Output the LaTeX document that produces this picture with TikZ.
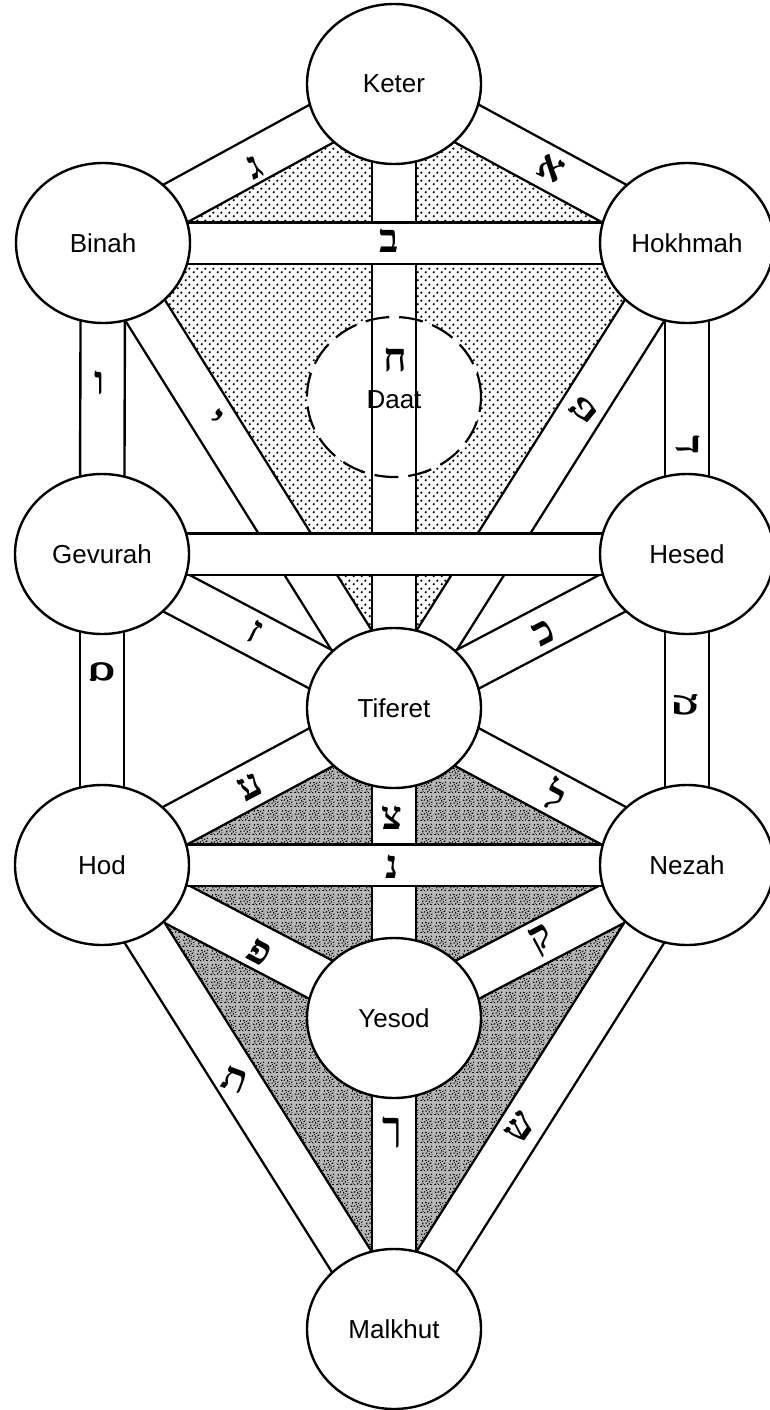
\documentclass[tikz,border=0pt]{standalone}
\usepackage{fontspec}
\setmainfont{Liberation Sans}
\newfontfamily\hebfont[Script=Hebrew]{Liberation Serif}
\usetikzlibrary{shapes.geometric,patterns.meta}
\pgfdeclarelayer{shade}
\pgfdeclarelayer{paths}
\pgfsetlayers{shade,paths,main}

\tikzdeclarepattern{
  name=finedots,
  type=uncolored,
  bounding box={(0pt,0pt) and (8pt,8pt)},
  tile size={(8pt,8pt)},
  code={
    \fill (2pt,2pt) circle [radius=1.35pt];
    \fill (6pt,6pt) circle [radius=1.35pt];
  }
}

\tikzdeclarepattern{
  name=speckle,
  type=uncolored,
  bounding box={(0pt,0pt) and (14pt,14pt)},
  tile size={(14pt,14pt)},
  code={
    \fill[rotate around={20:(1.5pt,1.8pt)}] (1.5pt,1.8pt) ellipse [x radius=1.4pt, y radius=0.7pt];
    \fill[rotate around={-40:(5.0pt,1.4pt)}] (5.0pt,1.4pt) ellipse [x radius=1.2pt, y radius=0.6pt];
    \fill[rotate around={60:(8.3pt,2.5pt)}] (8.3pt,2.5pt) ellipse [x radius=1.5pt, y radius=0.7pt];
    \fill[rotate around={-10:(11.8pt,1.6pt)}] (11.8pt,1.6pt) ellipse [x radius=1.3pt, y radius=0.6pt];
    \fill[rotate around={80:(3.0pt,4.9pt)}] (3.0pt,4.9pt) ellipse [x radius=1.3pt, y radius=0.7pt];
    \fill[rotate around={10:(6.6pt,5.3pt)}] (6.6pt,5.3pt) ellipse [x radius=1.5pt, y radius=0.6pt];
    \fill[rotate around={-60:(10.0pt,4.6pt)}] (10.0pt,4.6pt) ellipse [x radius=1.2pt, y radius=0.7pt];
    \fill[rotate around={40:(12.6pt,6.2pt)}] (12.6pt,6.2pt) ellipse [x radius=1.2pt, y radius=0.6pt];
    \fill[rotate around={-30:(1.6pt,8.3pt)}] (1.6pt,8.3pt) ellipse [x radius=1.4pt, y radius=0.6pt];
    \fill[rotate around={50:(4.8pt,8.6pt)}] (4.8pt,8.6pt) ellipse [x radius=1.3pt, y radius=0.7pt];
    \fill[rotate around={-80:(8.2pt,7.8pt)}] (8.2pt,7.8pt) ellipse [x radius=1.4pt, y radius=0.6pt];
    \fill[rotate around={15:(11.2pt,9.4pt)}] (11.2pt,9.4pt) ellipse [x radius=1.5pt, y radius=0.7pt];
    \fill[rotate around={70:(2.6pt,11.8pt)}] (2.6pt,11.8pt) ellipse [x radius=1.3pt, y radius=0.6pt];
    \fill[rotate around={-20:(6.2pt,12.3pt)}] (6.2pt,12.3pt) ellipse [x radius=1.4pt, y radius=0.7pt];
    \fill[rotate around={35:(9.4pt,11.5pt)}] (9.4pt,11.5pt) ellipse [x radius=1.2pt, y radius=0.6pt];
    \fill[rotate around={-50:(12.4pt,12.5pt)}] (12.4pt,12.5pt) ellipse [x radius=1.1pt, y radius=0.6pt];
    \fill (3.6pt,2.8pt) circle [radius=0.5pt];
    \fill (7.0pt,10.2pt) circle [radius=0.6pt];
    \fill (12.9pt,3.6pt) circle [radius=0.5pt];
    \fill (9.8pt,7.0pt) circle [radius=0.5pt];
  }
}

\begin{document}
\begin{tikzpicture}[x=1pt,y=-1pt,
  sef/.style={ellipse, draw, line width=2.4pt, fill=white,
    minimum width=174pt, minimum height=160pt, inner sep=0pt,
    font=\fontsize{26}{28}\selectfont},
  daatnode/.style={ellipse, draw, line width=2.2pt, dash pattern=on 24pt off 10pt,
    minimum width=174pt, minimum height=160pt, inner sep=0pt},
  daattext/.style={font=\fontsize{26}{28}\selectfont, inner sep=0pt},
  chan/.style={line width=2.4pt, double=white, double distance=42pt},
  hchan/.style={line width=2.4pt, double=white, double distance=39pt},
  lt/.style={font=\hebfont\bfseries\fontsize{40}{42}\selectfont, inner sep=0pt},
]
\useasboundingbox (0,0) rectangle (769,1410);

% sefirot
\node[sef] (K) at (394,84) {Keter};
\node[sef] (B) at (103,243) {Binah};
\node[sef] (H) at (687,243) {Hokhmah};
\node[daatnode] (Da) at (394,397) {};
\node[daattext] (DaT) at (394,400) {Daat};
\node[sef] (G) at (102,554) {Gevurah};
\node[sef] (He) at (687,554) {Hesed};
\node[sef] (T) at (394,708) {Tiferet};
\node[sef] (Hod) at (102,865) {Hod};
\node[sef] (N) at (687,865) {Nezah};
\node[sef] (Y) at (394,1018) {Yesod};
\node[sef] (M) at (394,1329) {Malkhut};

% shading
\begin{pgfonlayer}{shade}
  \fill[pattern=finedots, pattern color=black] (K.center) -- (B.center) -- (T.center) -- (H.center) -- cycle;
  \fill[black!28] (Hod.center) -- (T.center) -- (N.center) -- (M.center) -- cycle;
  \fill[pattern=speckle, pattern color=black] (Hod.center) -- (T.center) -- (N.center) -- (M.center) -- cycle;
  \fill[white] (Da.center) ellipse [x radius=87pt, y radius=80pt];
\end{pgfonlayer}

% paths
\begin{pgfonlayer}{paths}
  % diagonals
  \draw[chan] (K.center) -- (B.center);
  \draw[chan] (K.center) -- (H.center);
  \draw[chan] (B.center) -- (T.center);
  \draw[chan] (H.center) -- (T.center);
  \draw[chan] (G.center) -- (T.center);
  \draw[chan] (He.center) -- (T.center);
  \draw[chan] (Hod.center) -- (T.center);
  \draw[chan] (N.center) -- (T.center);
  \draw[chan] (Hod.center) -- (Y.center);
  \draw[chan] (N.center) -- (Y.center);
  \draw[chan] (Hod.center) -- (M.center);
  \draw[chan] (N.center) -- (M.center);
  % verticals
  \draw[chan] (K.center) -- (T.center);
  \draw[chan] (B.center) -- (G.center);
  \draw[chan] (G.center) -- (Hod.center);
  \draw[chan] (H.center) -- (He.center);
  \draw[chan] (He.center) -- (N.center);
  \draw[chan] (T.center) -- (Y.center);
  \draw[chan] (Y.center) -- (M.center);
  % horizontals
  \draw[hchan] (B.center) -- (H.center);
  \draw[hchan] (G.center) -- (He.center);
  \draw[hchan] (Hod.center) -- (N.center);
\end{pgfonlayer}

% letters
\node[lt, rotate=25]  (l1)  at (255,167)  {ג};
\node[lt, rotate=-25] (l2)  at (551,168)  {א};
\node[lt]             (l3)  at (389,241)  {ב};
\node[lt]             (l4)  at (395,360)  {ח};
\node[lt]             (l5)  at (100,383)  {ו};
\node[lt, rotate=-40] (l6)  at (215,420)  {י};
\node[lt, rotate=50]  (l7)  at (583,410)  {ט};
\node[lt, rotate=-90] (l8)  at (688,445)  {ד};
\node[lt, rotate=-28] (l9)  at (255,632)  {ז};
\node[lt, rotate=28]  (l10) at (544,633)  {כ};
\node[lt, rotate=90]  (l11) at (102,672)  {ס};
\node[lt, rotate=-90] (l12) at (686,705)  {מ};
\node[lt, rotate=28]  (l13) at (250,787)  {ע};
\node[lt, rotate=-28] (l14) at (556,795)  {ל};
\node[lt]             (l15) at (392,818)  {צ};
\node[lt]             (l16) at (392,867)  {נ};
\node[lt, rotate=-28] (l17) at (260,952)  {פ};
\node[lt, rotate=28]  (l18) at (542,940)  {ק};
\node[lt, rotate=-20] (l19) at (235,1080) {ת};
\node[lt]             (l20) at (392,1133) {ך};
\node[lt, rotate=55]  (l21) at (520,1127) {ש};
\end{tikzpicture}
\end{document}
